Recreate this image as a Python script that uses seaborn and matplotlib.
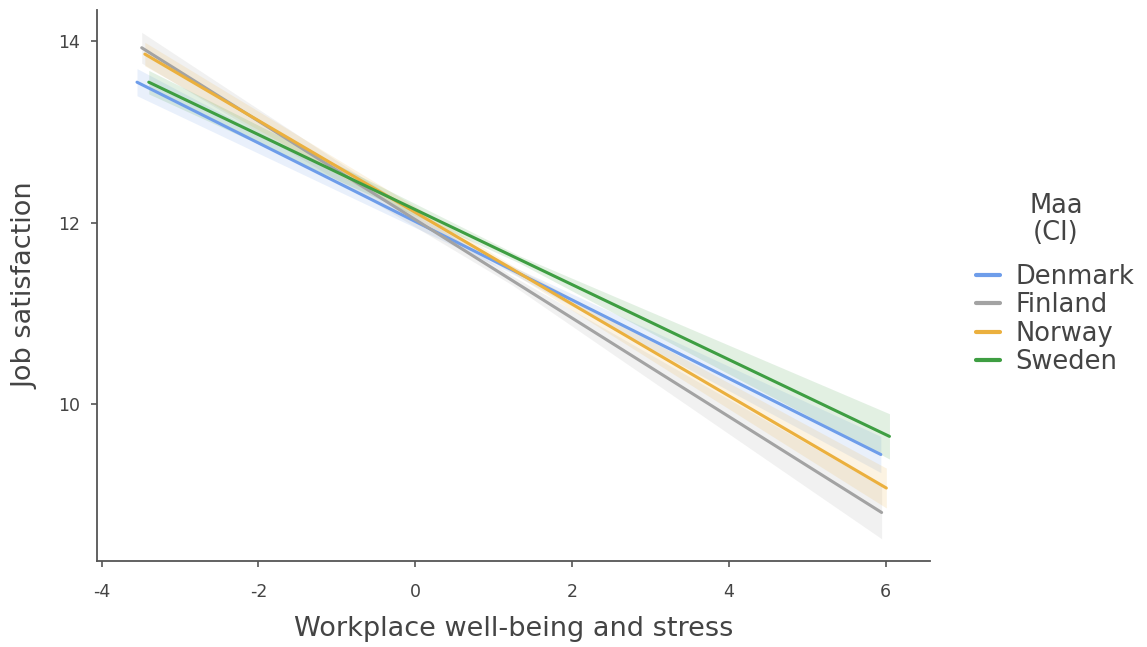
import numpy as np
import pandas as pd
import matplotlib
matplotlib.use("Agg")
import matplotlib.pyplot as plt
import seaborn as sns

sns.set_theme(style="ticks")
plt.rcParams["font.family"] = ["DejaVu Sans"]

# Fitted regression lines per country: predictor range and predicted values
countries = ["Denmark", "Finland", "Norway", "Sweden"]
x_start = [-3.55, -3.49, -3.45, -3.40]
x_end = [5.94, 5.95, 6.01, 6.05]
y_start = [13.55, 13.93, 13.86, 13.55]
y_end = [9.44, 8.80, 9.07, 9.64]
# Confidence interval half-widths at the start, centre and end of each line
ci_start = [0.15, 0.17, 0.13, 0.13]
ci_mid = [0.04, 0.05, 0.04, 0.04]
ci_end = [0.20, 0.29, 0.22, 0.25]

colors = ["#6E9DEA", "#A3A3A3", "#EBB03E", "#3E9E42"]
palette = dict(zip(countries, colors))

rows = []
for c, xs, xe, ys, ye in zip(countries, x_start, x_end, y_start, y_end):
    rows.append({"Maa": c, "x": xs, "y": ys})
    rows.append({"Maa": c, "x": xe, "y": ye})
df = pd.DataFrame(rows)

text_col = "#444444"
fig = plt.figure(figsize=(11.47, 6.47), dpi=100)
ax = fig.add_axes([0.0846, 0.133, 0.7264, 0.852])

# Confidence bands
for c, xs, xe, ys, ye, cs, cm, ce in zip(countries, x_start, x_end, y_start, y_end,
                                          ci_start, ci_mid, ci_end):
    xm = (xs + xe) / 2
    ym = (ys + ye) / 2
    bx = [xs, xm, xe]
    by = [ys, ym, ye]
    lo = [by[0] - cs, by[1] - cm, by[2] - ce]
    hi = [by[0] + cs, by[1] + cm, by[2] + ce]
    ax.fill_between(bx, lo, hi, color=palette[c], alpha=0.15, linewidth=0)

sns.lineplot(data=df, x="x", y="y", hue="Maa", palette=palette, linewidth=2.2,
             ax=ax, legend=True)

ax.set_xlim(-4.06, 6.57)
ax.set_ylim(8.265, 14.35)
ax.set_xticks([-4, -2, 0, 2, 4, 6])
ax.set_yticks([10, 12, 14])
ax.set_xticklabels(["-4", "-2", "0", "2", "4", "6"])
ax.set_xlabel("Workplace well-being and stress", fontsize=19.5, color=text_col, labelpad=10.5)
ax.set_ylabel("Job satisfaction", fontsize=19.5, color=text_col, labelpad=13.5)
ax.tick_params(axis="both", labelsize=12.5, labelcolor=text_col, color="#555555",
               length=4, width=1.2)
ax.tick_params(axis="x", pad=12)
ax.tick_params(axis="y", pad=8.5)
for s in ["left", "bottom"]:
    ax.spines[s].set_color("#555555")
    ax.spines[s].set_linewidth(1.3)
sns.despine(ax=ax)

handles, labels = ax.get_legend_handles_labels()
ax.get_legend().remove()
leg = fig.legend(handles, labels, frameon=False, fontsize=18.5,
                 loc="center left", bbox_to_anchor=(0.8505, 0.506),
                 borderpad=0, borderaxespad=0, handlelength=0.95,
                 handletextpad=0.6, labelspacing=0.1)
for t in leg.get_texts():
    t.set_color(text_col)
for h in leg.get_lines():
    h.set_linewidth(3)
fig.text(1056 / 1147, 0.66, "Maa\n(CI)", ha="center", va="center", fontsize=18.5,
         color=text_col, linespacing=1.05, multialignment="center")

fig.savefig("out.png", dpi=100)
